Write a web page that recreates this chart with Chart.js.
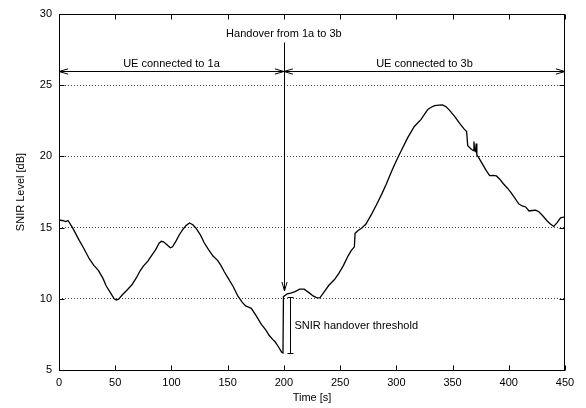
<!DOCTYPE html>
<html><head><meta charset="utf-8">
<script src="https://cdn.jsdelivr.net/npm/chart.js@4"></script>
<style>html,body{margin:0;padding:0;background:#fff;}canvas{display:block;}</style>
</head><body>
<canvas id="c" width="586" height="408"></canvas>
<script>
// ---- data ----
const timeS = [0,3,6,8,12,18,22,27,31,35,39,42,46,49,51,53,56,61,65,69,72,75,79,82,86,89,91,93,96,99,101,104,107,110,113,116,119,122,126,129,133,137,141,144,147,150,155,159,163,166,169,171,175,180,184,187,190,192,195,198,199.2,199.6,203,206,210,214,218,222,226,229,232,236,240,245,249,253,257,260,262.7,263.3,266,269,273,278,282,287,291,296,300,305,310,316,322,325,328,331,334,338,341,344,347,352,356,360,362.5,363.5,366,368.4,369,369.6,370.4,371,371.6,373,377,380,383,386,389,392,395,399,402,406,409,412,415,418,421,424,427,430,434,437,440,443,446,450];
const snirDb = [15.52,15.5,15.42,15.5,15.0,14.1,13.55,12.8,12.35,12.0,11.45,10.9,10.4,10.0,9.92,9.98,10.25,10.65,11.0,11.5,11.95,12.3,12.65,13.0,13.45,13.9,14.04,14.0,13.8,13.58,13.65,14.05,14.5,14.86,15.15,15.33,15.2,14.95,14.45,13.95,13.45,13.0,12.7,12.35,11.9,11.5,10.85,10.2,9.75,9.5,9.4,9.33,8.85,8.2,7.8,7.42,7.15,7.0,6.65,6.25,6.2,10.15,10.35,10.4,10.5,10.68,10.68,10.45,10.2,10.08,10.06,10.5,10.95,11.35,11.8,12.35,13.0,13.4,13.65,14.6,14.8,14.95,15.25,15.95,16.55,17.35,18.05,19.0,19.7,20.5,21.3,22.1,22.6,22.95,23.3,23.45,23.57,23.6,23.62,23.5,23.27,22.8,22.35,21.95,21.75,20.75,20.55,20.4,21.05,20.4,20.35,20.9,20.1,19.95,19.4,19.0,18.65,18.67,18.63,18.4,18.1,17.75,17.45,17.0,16.65,16.52,16.45,16.17,16.2,16.23,16.1,15.85,15.48,15.25,15.08,15.35,15.68,15.75];
const xTickValues = [0,50,100,150,200,250,300,350,400,450];
const yTickValues = [5,10,15,20,25,30];
const gridValues = [10,15,20,25];
const xTitle = 'Time [s]';
const yTitle = 'SNIR Level [dB]';
const handoverTime = 200;
const leftLabel = 'UE connected to 1a';
const rightLabel = 'UE connected to 3b';
const handoverLabel = 'Handover from 1a to 3b';
const thresholdLabel = 'SNIR handover threshold';
const spanLevel = 26;          // level of the connection span arrows [dB]
const handoverArrowTop = 28;   // [dB]
const handoverArrowTip = 10.55;// [dB]
const thresholdTime = 205.2;
const thresholdLow = 6.22, thresholdHigh = 10.15;

const FONT = '"Liberation Sans", Arial, Helvetica, sans-serif';
Chart.defaults.font.family = FONT;
Chart.defaults.font.size = 11;
Chart.defaults.color = '#000';

function arrowHead(ctx, tx, ty, dx, dy, len, half) {
  const bx = tx - dx*len, by = ty - dy*len, px = -dy, py = dx;
  ctx.beginPath();
  ctx.moveTo(bx + px*half, by + py*half);
  ctx.lineTo(tx, ty);
  ctx.lineTo(bx - px*half, by - py*half);
  ctx.stroke();
}
const snap = v => Math.round(v) + 0.5;

const decor = {
  id: 'decor',
  afterDraw(chart) {
    const {ctx, chartArea: a, scales: {x, y}} = chart;
    ctx.save();
    ctx.strokeStyle = '#000';
    ctx.fillStyle = '#000';
    ctx.lineWidth = 1;
    // frame
    const L = snap(a.left), R = snap(a.right - 1), T = snap(a.top), B = snap(a.bottom);
    ctx.strokeRect(L, T, R - L, B - T);
    // inward ticks (mirrored)
    const tk = 5;
    ctx.beginPath();
    xTickValues.forEach(v => {
      const px = snap(x.getPixelForValue(v));
      ctx.moveTo(px, B); ctx.lineTo(px, B - tk);
      ctx.moveTo(px, T); ctx.lineTo(px, T + tk);
    });
    yTickValues.forEach(v => {
      const py = snap(y.getPixelForValue(v));
      ctx.moveTo(L, py); ctx.lineTo(L + tk, py);
      ctx.moveTo(R, py); ctx.lineTo(R - tk, py);
    });
    ctx.stroke();

    ctx.font = '11px ' + FONT;
    ctx.textBaseline = 'middle';
    // connection spans
    const ys = snap(y.getPixelForValue(spanLevel));
    const x0 = x.getPixelForValue(x.min), xh = x.getPixelForValue(handoverTime), x1 = x.getPixelForValue(x.max);
    ctx.beginPath(); ctx.moveTo(x0, ys); ctx.lineTo(x1, ys); ctx.stroke();
    arrowHead(ctx, x0, ys, -1, 0, 9, 2.6);
    arrowHead(ctx, xh, ys, 1, 0, 9, 2.6);
    arrowHead(ctx, xh, ys, -1, 0, 9, 2.6);
    arrowHead(ctx, x1, ys, 1, 0, 9, 2.6);
    ctx.textAlign = 'center';
    ctx.fillText(leftLabel, x.getPixelForValue((x.min + handoverTime) / 2), ys - 7.5);
    ctx.fillText(rightLabel, x.getPixelForValue((handoverTime + x.max) / 2), ys - 7.5);
    // handover arrow
    const xv = snap(xh);
    const yTop = y.getPixelForValue(handoverArrowTop), yTip = y.getPixelForValue(handoverArrowTip);
    ctx.beginPath(); ctx.moveTo(xv, yTop); ctx.lineTo(xv, yTip); ctx.stroke();
    arrowHead(ctx, xv, yTip, 0, 1, 9, 2.6);
    ctx.fillText(handoverLabel, xh, yTop - 8.5);
    // threshold bar
    const xt = snap(x.getPixelForValue(thresholdTime));
    const yl = snap(y.getPixelForValue(thresholdLow)), yhi = snap(y.getPixelForValue(thresholdHigh));
    ctx.beginPath();
    ctx.moveTo(xt, yl); ctx.lineTo(xt, yhi);
    ctx.moveTo(xt - 3, yl); ctx.lineTo(xt + 3, yl);
    ctx.moveTo(xt - 3, yhi); ctx.lineTo(xt + 3, yhi);
    ctx.stroke();
    ctx.textAlign = 'left';
    ctx.fillText(thresholdLabel, xt + 4, (yl + yhi) / 2);
    ctx.restore();
  }
};

new Chart(document.getElementById('c'), {
  type: 'line',
  data: {
    datasets: [{
      data: timeS.map((t, i) => ({x: t, y: snirDb[i]})),
      borderColor: '#000',
      borderWidth: 1.3,
      pointRadius: 0,
      tension: 0,
      fill: false
    }]
  },
  options: {
    responsive: false,
    animation: false,
    events: [],
    layout: {padding: {left: 0, right: 21, top: 14, bottom: 0}},
    plugins: {legend: {display: false}, tooltip: {enabled: false}},
    scales: {
      x: {
        type: 'linear', min: 0, max: 450,
        afterBuildTicks: s => { s.ticks = xTickValues.map(v => ({value: v})); },
        afterFit: s => { s.height = 38; },
        grid: {display: false, drawTicks: false},
        border: {display: false},
        ticks: {padding: 6, maxRotation: 0, autoSkip: false, color: '#000'},
        title: {display: true, text: xTitle, padding: {top: 0, bottom: 3}, color: '#000'}
      },
      y: {
        type: 'linear', min: 5, max: 30,
        afterBuildTicks: s => { s.ticks = yTickValues.map(v => ({value: v})); },
        afterFit: s => { s.width = 59; },
        grid: {
          drawTicks: false,
          color: c => gridValues.includes(c.tick && c.tick.value) ? '#444' : 'rgba(0,0,0,0)',
          lineWidth: 1
        },
        border: {display: false, dash: [1, 2]},
        ticks: {padding: 7, color: '#000'},
        title: {display: true, text: yTitle, padding: {top: 14, bottom: 0}, color: '#000'}
      }
    }
  },
  plugins: [decor]
});
</script>
</body></html>
